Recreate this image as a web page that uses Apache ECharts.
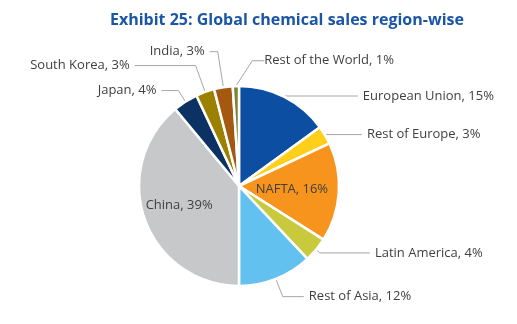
<!DOCTYPE html>
<html>
<head>
<meta charset="utf-8">
<script src="https://cdn.jsdelivr.net/npm/echarts@6/dist/echarts.min.js"></script>
<style>
html,body{margin:0;padding:0;background:#fff;}
#chart{width:517px;height:324px;}
</style>
</head>
<body>
<div id="chart"></div>
<script>
var categories = ['European Union', 'Rest of Europe', 'NAFTA', 'Latin America', 'Rest of Asia', 'China', 'Japan', 'South Korea', 'India', 'Rest of the World'];
var shares = [15, 3, 16, 4, 12, 39, 4, 3, 3, 1];

var colors = ['#0B4EA2', '#FFCF1A', '#F7941D', '#C9C93E', '#62C1EE', '#C7C8CA', '#0B3262', '#9C8100', '#A35A10', '#808038'];
var insideLabels = { 'NAFTA': true, 'China': true };
var lineLen = {
  'European Union': [1, 73],
  'Rest of Europe': [1, 36],
  'Latin America': [5, 50],
  'Rest of Asia': [19, 21],
  'Japan': [13, 17],
  'South Korea': [28, 61],
  'India': [36, 8],
  'Rest of the World': [15, 12]
};

var data = categories.map(function (name, i) {
  var item = { name: name, value: shares[i], itemStyle: { color: colors[i] } };
  if (insideLabels[name]) {
    item.label = { position: 'inside' };
    item.labelLine = { show: false };
  } else {
    item.labelLine = { length: lineLen[name][0], length2: lineLen[name][1] };
  }
  return item;
});

var chart = echarts.init(document.getElementById('chart'), null, { renderer: 'canvas' });
chart.setOption({
  animation: false,
  backgroundColor: '#ffffff',
  title: {
    text: 'Exhibit 25: Global chemical sales region-wise',
    left: 110,
    top: 12,
    padding: 0,
    textStyle: { fontFamily: 'Open Sans', fontWeight: 'bold', fontSize: 16, color: '#1B55A5' }
  },
  series: [{
    type: 'pie',
    center: [239, 186],
    radius: 100,
    startAngle: 90,
    clockwise: true,
    avoidLabelOverlap: false,
    data: data,
    itemStyle: { borderColor: '#ffffff', borderWidth: 2.5 },
    label: {
      show: true,
      position: 'outside',
      formatter: '{b}, {c}%',
      fontFamily: 'Open Sans',
      fontSize: 13,
      color: '#3F3F3F',
      distanceToLabelLine: 5
    },
    labelLine: {
      show: true,
      lineStyle: { color: '#A6A6A6', width: 1 }
    },
    labelLayout: function (params) {
      var name = categories[params.dataIndex];
      var r = params.rect, l = params.labelRect;
      if (name === 'Rest of the World') {
        return { x: r.x + r.width + 24, y: r.y - 24, align: 'left', verticalAlign: 'middle' };
      }
      if (name === 'China') {
        return { x: l.x + l.width / 2 - 10, y: l.y + l.height / 2 + 1, align: 'center', verticalAlign: 'middle' };
      }
      return {};
    }
  }]
});
</script>
</body>
</html>
